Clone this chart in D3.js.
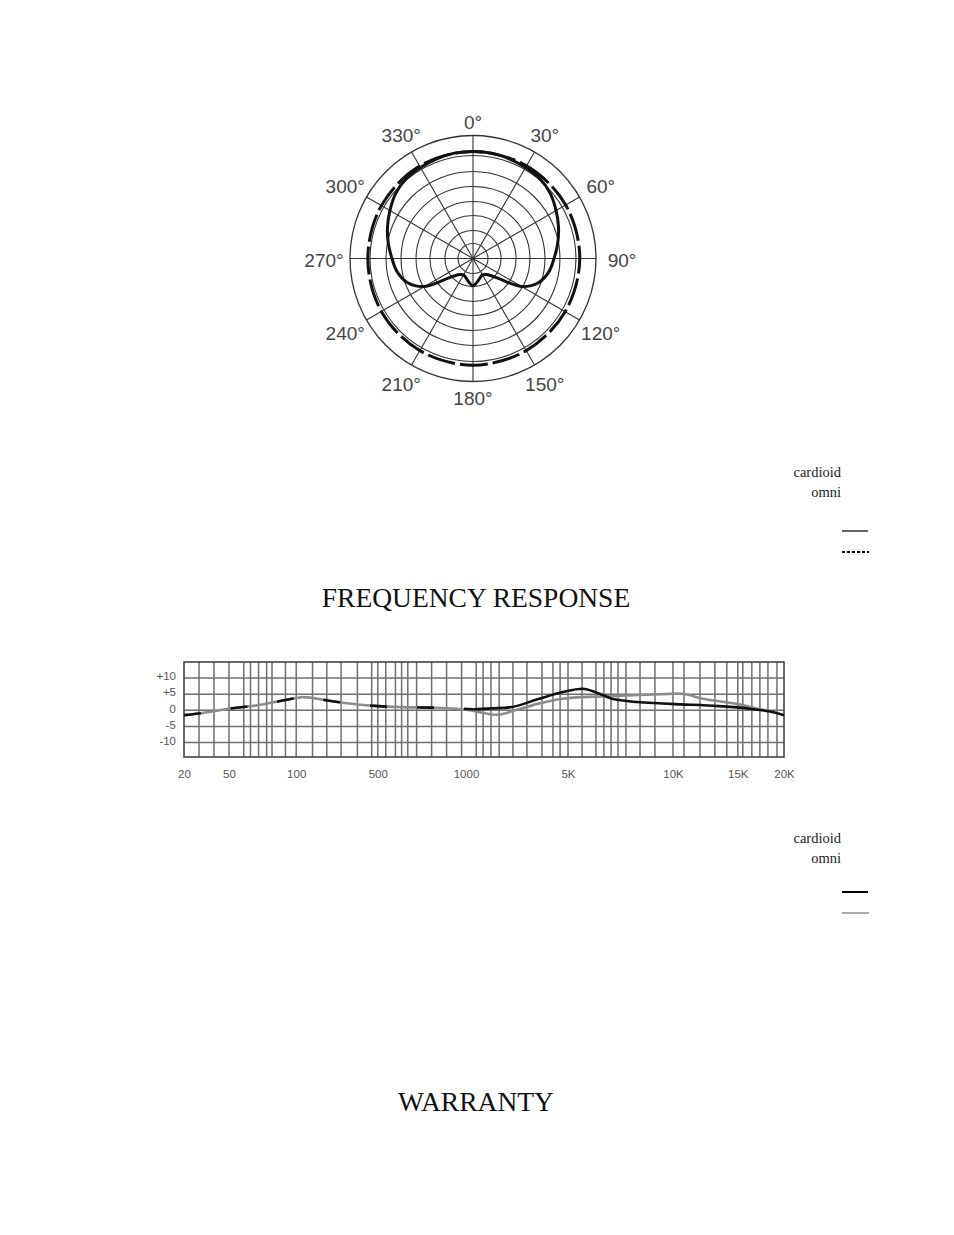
<!DOCTYPE html>
<html>
<head>
<meta charset="utf-8">
<script src="https://cdn.jsdelivr.net/npm/d3@7"></script>
<style>
  body { margin: 0; background: #fff; }
</style>
</head>
<body>
<div id="chart"></div>
<script>
// ---- polar pattern (angles clockwise from front, levels relative to outer rim)
const spokeAngles = [0, 30, 60, 90, 120, 150, 180, 210, 240, 270, 300, 330];
const ringLevels = [0.122, 0.228, 0.35, 0.463, 0.585, 0.707, 0.837];

const cardioidAngles = [-180, -170, -160, -150, -140, -130, -120, -110, -100, -90, -80, -70, -60, -50, -40, -30, -20, -10,
  0, 10, 20, 30, 40, 50, 60, 70, 80, 90, 100, 110, 120, 130, 140, 150, 160, 170, 180];
const cardioidLevels = [0.228, 0.195, 0.167, 0.154, 0.171, 0.236, 0.455, 0.569, 0.626, 0.659, 0.699, 0.740, 0.780, 0.821, 0.846, 0.854, 0.862, 0.870,
  0.870, 0.870, 0.862, 0.854, 0.846, 0.821, 0.780, 0.740, 0.699, 0.659, 0.626, 0.569, 0.455, 0.236, 0.171, 0.154, 0.167, 0.195, 0.228];

const omniAngles = [0, 30, 60, 90, 120, 150, 180, 210, 240, 270, 300, 330];
const omniLevels = [0.870, 0.870, 0.870, 0.868, 0.865, 0.865, 0.867, 0.865, 0.860, 0.855, 0.860, 0.868];

// ---- frequency response
const freqTicks = [20, 50, 100, 500, 1000, 5000, 10000, 15000, 20000];
const freqTickLabels = ["20", "50", "100", "500", "1000", "5K", "10K", "15K", "20K"];
// where each labelled frequency sits along the chart width (the printed axis is not a true log scale)
const freqTickPos = [0, 0.075, 0.187, 0.323, 0.470, 0.640, 0.815, 0.923, 1];
const freqGrid = [30, 40, 50, 61, 66, 72, 78, 82, 92, 100, 180, 250, 320, 400, 470, 500,
  545, 600, 635, 670, 720, 805, 890, 975, 1400, 1670, 1980, 2300, 2840, 3390, 3980, 4410, 4690,
  5000, 5670, 6330, 6710, 7050, 7380, 7760, 8430, 9140, 10000, 10850, 12080, 13230, 14150,
  15000, 15540, 16520, 17390, 18260, 19240];
const dbTicks = [10, 5, 0, -5, -10];
const dbTickLabels = ["+10", "+5", "0", "-5", "-10"];

const cardioidFreqs = [20, 30, 40, 50, 70, 100, 130, 270, 360, 500, 630, 830, 1300, 2000, 2700, 3800, 4800, 5700, 6400, 7100, 7800, 9900, 13500, 16000, 18500, 20000];
const cardioidDb = [-1.5, -1.0, -0.3, 0.5, 1.5, 3.8, 4.1, 2.9, 2.1, 1.3, 1.0, 0.8, 0.3, 0.6, 0.9, 3.4, 5.7, 6.7, 5.4, 3.6, 2.9, 2.0, 1.3, 0.6, -0.4, -1.5];

const omniFreqs = [20, 30, 40, 50, 70, 100, 130, 270, 360, 500, 630, 830, 1150, 1800, 2200, 2850, 3800, 4800, 5700, 6700, 7800, 9900, 10500, 12300, 14900, 16700, 18500, 20000];
const omniDb = [-1.5, -1.0, -0.3, 0.5, 1.5, 3.8, 4.1, 2.9, 2.1, 1.3, 1.0, 0.8, 0.0, -1.0, -1.4, -0.2, 2.0, 3.6, 4.1, 4.3, 4.6, 5.1, 5.2, 3.6, 2.0, 0.8, -0.4, -1.5];

const svg = d3.select("#chart")
  .append("svg")
    .attr("width", 954)
    .attr("height", 1235)
    .style("display", "block");

svg.append("rect").attr("width", 954).attr("height", 1235).attr("fill", "#fff");

const rad = deg => deg * Math.PI / 180;

// ===== polar plot =====
const R = 123;
const polar = svg.append("g").attr("transform", "translate(473,258.5)");
const rScale = d3.scaleLinear().domain([0, 1]).range([0, R]);

polar.selectAll("circle.ring")
  .data(ringLevels)
  .enter()
  .append("circle")
    .attr("class", "ring")
    .attr("r", d => rScale(d))
    .attr("fill", "none")
    .attr("stroke", "#333")
    .attr("stroke-width", 1.1);

polar.append("circle")
  .attr("r", rScale(1))
  .attr("fill", "none")
  .attr("stroke", "#333")
  .attr("stroke-width", 1.3);

polar.selectAll("line.spoke")
  .data(spokeAngles)
  .enter()
  .append("line")
    .attr("x2", d => rScale(1) * Math.sin(rad(d)))
    .attr("y2", d => -rScale(1) * Math.cos(rad(d)))
    .attr("stroke", "#333")
    .attr("stroke-width", 1.1);

// degree labels
polar.selectAll("text.deg")
  .data(spokeAngles)
  .enter()
  .append("text")
    .attr("x", d => (R + 15 + 11 * Math.abs(Math.sin(rad(d)))) * Math.sin(rad(d)))
    .attr("y", d => -(R + 15 + 11 * Math.abs(Math.sin(rad(d)))) * Math.cos(rad(d)) + 3)
    .attr("text-anchor", "middle")
    .attr("dominant-baseline", "middle")
    .style("font-family", "'Liberation Sans', Arial, sans-serif")
    .style("font-size", "19px")
    .attr("fill", "#444")
    .text(d => d + "°");

const omniLine = d3.lineRadial()
  .angle(d => rad(d[0]))
  .radius(d => rScale(d[1]))
  .curve(d3.curveCardinalClosed);

polar.append("path")
  .datum(d3.zip(omniAngles, omniLevels))
  .attr("d", omniLine)
  .attr("fill", "none")
  .attr("stroke", "#111")
  .attr("stroke-width", 3)
  .attr("stroke-dasharray", "28,5");

const cardLine = d3.lineRadial()
  .angle(d => rad(d[0]))
  .radius(d => rScale(d[1]))
  .curve(d3.curveCatmullRom.alpha(0.5));

polar.append("path")
  .datum(d3.zip(cardioidAngles, cardioidLevels))
  .attr("d", cardLine)
  .attr("fill", "none")
  .attr("stroke", "#111")
  .attr("stroke-width", 3)
  .attr("stroke-linejoin", "miter");

// ===== legends =====
function legend(top, lineY, second) {
  const g = svg.append("g");
  g.append("text").attr("x", 841).attr("y", top).text("cardioid");
  g.append("text").attr("x", 841).attr("y", top + 20).text("omni");
  g.selectAll("text")
    .attr("text-anchor", "end")
    .style("font-family", "'Liberation Serif', 'Times New Roman', serif")
    .style("font-size", "14.5px")
    .attr("fill", "#222");
  g.append("line")
    .attr("x1", 842).attr("x2", 868).attr("y1", lineY).attr("y2", lineY)
    .attr("stroke", "#000").attr("stroke-width", second ? 2 : 1.2);
  const l2 = g.append("line")
    .attr("x1", 842).attr("x2", 869).attr("y1", lineY + 21).attr("y2", lineY + 21);
  if (second) l2.attr("stroke", "#aaa").attr("stroke-width", 2);
  else l2.attr("stroke", "#000").attr("stroke-width", 2).attr("stroke-dasharray", "3,2");
}
legend(477, 531, false);
legend(843, 892, true);

// ===== titles =====
svg.append("text")
  .attr("x", 476).attr("y", 607)
  .attr("text-anchor", "middle")
  .style("font-family", "'Liberation Serif', 'Times New Roman', serif")
  .style("font-size", "27.5px")
  .attr("fill", "#111")
  .text("FREQUENCY RESPONSE");

svg.append("text")
  .attr("x", 476).attr("y", 1111)
  .attr("text-anchor", "middle")
  .style("font-family", "'Liberation Serif', 'Times New Roman', serif")
  .style("font-size", "27.5px")
  .attr("fill", "#111")
  .text("WARRANTY");

// ===== frequency response chart =====
const fr = { left: 184, top: 662, width: 600, height: 95 };
const fg = svg.append("g").attr("transform", `translate(${fr.left},${fr.top})`);

const x = d3.scaleLinear()
  .domain(freqTicks)
  .range(freqTickPos.map(p => p * fr.width));
const y = d3.scaleLinear().domain([-14.5, 15]).range([fr.height, 0]);

fg.selectAll("line.vgrid")
  .data(freqGrid)
  .enter()
  .append("line")
    .attr("x1", d => x(d)).attr("x2", d => x(d))
    .attr("y1", 0).attr("y2", fr.height)
    .attr("stroke", "#6e6e6e")
    .attr("stroke-width", 1.5);

fg.selectAll("line.hgrid")
  .data(dbTicks)
  .enter()
  .append("line")
    .attr("x1", 0).attr("x2", fr.width)
    .attr("y1", d => y(d)).attr("y2", d => y(d))
    .attr("stroke", "#6e6e6e")
    .attr("stroke-width", 1.5);

fg.append("rect")
  .attr("width", fr.width)
  .attr("height", fr.height)
  .attr("fill", "none")
  .attr("stroke", "#444")
  .attr("stroke-width", 1.6);

const xAxis = fg.append("g")
  .attr("transform", `translate(0,${fr.height + 10})`)
  .call(d3.axisBottom(x).tickValues(freqTicks).tickFormat((d, i) => freqTickLabels[i]).tickSize(0));
const yAxis = fg.append("g")
  .attr("transform", "translate(-5,0)")
  .call(d3.axisLeft(y).tickValues(dbTicks).tickFormat((d, i) => dbTickLabels[i]).tickSize(0));

[xAxis, yAxis].forEach(a => {
  a.select(".domain").remove();
  a.selectAll("text")
    .style("font-family", "'Liberation Sans', Arial, sans-serif")
    .style("font-size", "11.5px")
    .attr("fill", "#555");
});
yAxis.selectAll("text").attr("dy", "0.15em");

const resp = d3.line()
  .x(d => x(d[0]))
  .y(d => y(d[1]))
  .curve(d3.curveMonotoneX);

fg.append("path")
  .datum(d3.zip(omniFreqs, omniDb))
  .attr("d", resp)
  .attr("fill", "none")
  .attr("stroke", "#8c8c8c")
  .attr("stroke-width", 2.6);

const cardPts = d3.zip(cardioidFreqs, cardioidDb);
// where the two curves overlap the black one shows only in pieces
fg.append("path")
  .datum(cardPts.filter(d => d[0] <= 1300))
  .attr("d", resp)
  .attr("fill", "none")
  .attr("stroke", "#111")
  .attr("stroke-width", 2.6)
  .attr("stroke-dasharray", "17,30");

fg.append("path")
  .datum(cardPts.filter(d => d[0] >= 1300))
  .attr("d", resp)
  .attr("fill", "none")
  .attr("stroke", "#111")
  .attr("stroke-width", 2.6);
</script>
</body>
</html>
